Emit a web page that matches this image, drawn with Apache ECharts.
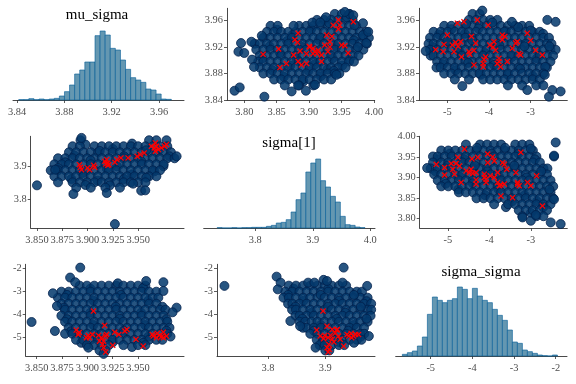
<!DOCTYPE html>
<html><head><meta charset="utf-8">
<script src="https://cdn.jsdelivr.net/npm/echarts@6/dist/echarts.min.js"></script>
<style>html,body{margin:0;padding:0;background:#fff}#c{width:576px;height:384px}</style>
</head><body><div id="c"></div>
<script>
// ---------- Histogram data (bin start, bin width, counts) ----------
const muStart = 3.8414, muWidth = 0.0043;
const muCounts = [1,1,4,1,3,1,3,5,12,25,45,78,90,114,114,193,207,195,155,150,120,92,67,60,53,33,30,18,3,2];
const sgStart = 3.7337, sgWidth = 0.00857;
const sgCounts = [1,0,0,1,0,1,1,2,2,2,5,8,15,17,25,48,85,105,168,195,207,142,123,95,78,35,10,8,3,1];
const ssStart = -5.68, ssWidth = 0.12;
const ssCounts = [5,10,15,30,57,125,177,167,160,167,172,207,200,172,203,180,167,160,140,122,107,78,42,38,18,13,8,3,1,0,3];

// ---------- Tick labels ----------
const ticksMu4 = [3.84,3.88,3.92,3.96];
const ticksSg5 = [3.80,3.85,3.90,3.95,4.00];
const ticksSS3 = [-5,-4,-3];
const ticksMu5 = [3.850,3.875,3.900,3.925,3.950];
const ticksSg2 = [3.8,3.9];
const ticksSg3 = [3.8,3.9,4.0];
const ticksSS4 = [-5,-4,-3,-2];

// ---------- Scatter: rows [y, x1, x2, ...] + extra [x,y] + divergences [x,y] ----------
// Panel A: x = sigma[1], y = mu_sigma
const rowsA = [
 [3.970,3.9395,3.9505,3.9615],
 [3.961,3.912,3.923,3.934,3.945,3.956,3.967],
 [3.952,3.8405,3.8515,3.8845,3.8955,3.9065,3.9175,3.9285,3.9395,3.9505,3.9615,3.9725],
 [3.943,3.835,3.846,3.857,3.868,3.879,3.890,3.901,3.912,3.923,3.934,3.945,3.956,3.967,3.978,3.988],
 [3.934,3.8295,3.8405,3.8515,3.8625,3.8735,3.8845,3.8955,3.9065,3.9175,3.9285,3.9395,3.9505,3.9615,3.9725,3.9835,3.992],
 [3.925,3.816,3.824,3.835,3.846,3.857,3.868,3.879,3.890,3.901,3.912,3.923,3.934,3.945,3.956,3.967,3.978,3.989],
 [3.916,3.8185,3.8295,3.8405,3.8515,3.8625,3.8735,3.8845,3.8955,3.9065,3.9175,3.9285,3.9395,3.9505,3.9615,3.9725,3.9835],
 [3.907,3.824,3.835,3.846,3.857,3.868,3.879,3.890,3.901,3.912,3.923,3.934,3.945,3.956,3.967,3.976],
 [3.898,3.8215,3.8295,3.8405,3.8515,3.8625,3.8735,3.8845,3.8955,3.9065,3.9175,3.9285,3.9395,3.9505,3.9615,3.969],
 [3.889,3.824,3.835,3.846,3.857,3.868,3.879,3.890,3.901,3.912,3.923,3.934,3.945,3.956],
 [3.880,3.8295,3.8405,3.8515,3.8625,3.8735,3.8845,3.8955,3.9065,3.9175,3.9285,3.9395,3.9465],
 [3.871,3.846,3.857,3.868,3.879,3.890,3.901,3.912,3.923,3.934],
 [3.862,3.8625,3.8845,3.9065]
];
const fillA = [[3.851,3.946],[3.874,3.938],[3.903,3.947],[3.931,3.956],[3.958,3.965],[3.839,3.921],[3.866,3.929],[3.889,3.920],[3.915,3.931],[3.942,3.920],[3.969,3.930],[3.983,3.938],[3.828,3.903],[3.855,3.911],[3.881,3.902],[3.909,3.894],[3.936,3.903],[3.962,3.901],[3.843,3.885],[3.871,3.892],[3.899,3.884],[3.928,3.886],[3.951,3.892],[3.861,3.875],[3.891,3.868],[3.918,3.876],[3.938,3.884],[3.926,3.965],[3.905,3.957],[3.962,3.970]];
const extraA = [[3.785,3.854],[3.793,3.859],[3.831,3.845],[3.795,3.926],[3.791,3.913],[3.800,3.911],[3.811,3.928],[3.812,3.901],[3.815,3.890],[3.827,3.937],[3.876,3.952],[3.873,3.853],[3.883,3.862],[3.895,3.854],[3.909,3.863],[3.917,3.957],[3.942,3.878],[3.955,3.973],[3.968,3.968],[3.975,3.920],[3.988,3.926],[3.991,3.943],[3.983,3.956],[3.970,3.953]];
const divA = [[3.829,3.909],[3.855,3.889],[3.853,3.917],[3.883,3.941],[3.878,3.931],[3.882,3.927],[3.886,3.914],[3.876,3.908],[3.883,3.898],[3.888,3.893],[3.896,3.895],[3.896,3.910],[3.901,3.920],[3.906,3.918],[3.909,3.913],[3.906,3.910],[3.912,3.910],[3.914,3.915],[3.919,3.908],[3.919,3.898],[3.924,3.923],[3.927,3.938],[3.935,3.936],[3.932,3.928],[3.929,3.913],[3.937,3.953],[3.945,3.961],[3.947,3.953],[3.945,3.947],[3.950,3.923],[3.955,3.922],[3.960,3.911],[3.968,3.958],[3.932,3.920],[3.900,3.921],[3.865,3.895]];

// Panel B: x = sigma_sigma, y = mu_sigma
const rowsB = [
 [3.970,-4.395,-4.225],
 [3.961,-4.48,-4.31,-4.14,-3.97,-3.80],
 [3.952,-5.075,-4.905,-4.735,-4.565,-4.395,-4.225,-4.055,-3.885,-3.715,-3.545,-3.375,-3.205,-3.035],
 [3.943,-5.33,-5.16,-4.99,-4.82,-4.65,-4.48,-4.31,-4.14,-3.97,-3.80,-3.63,-3.46,-3.29,-3.12,-2.95,-2.78],
 [3.934,-5.415,-5.245,-5.075,-4.905,-4.735,-4.565,-4.395,-4.225,-4.055,-3.885,-3.715,-3.545,-3.375,-3.205,-3.035,-2.865,-2.695,-2.56],
 [3.925,-5.45,-5.33,-5.16,-4.99,-4.82,-4.65,-4.48,-4.31,-4.14,-3.97,-3.80,-3.63,-3.46,-3.29,-3.12,-2.95,-2.78,-2.61,-2.50],
 [3.916,-5.415,-5.245,-5.075,-4.905,-4.735,-4.565,-4.395,-4.225,-4.055,-3.885,-3.715,-3.545,-3.375,-3.205,-3.035,-2.865,-2.695,-2.525,-2.40],
 [3.907,-5.40,-5.33,-5.16,-4.99,-4.82,-4.65,-4.48,-4.31,-4.14,-3.97,-3.80,-3.63,-3.46,-3.29,-3.12,-2.95,-2.78,-2.61,-2.46],
 [3.898,-5.245,-5.075,-4.905,-4.735,-4.565,-4.395,-4.225,-4.055,-3.885,-3.715,-3.545,-3.375,-3.205,-3.035,-2.865,-2.695,-2.525],
 [3.889,-5.26,-5.16,-4.99,-4.82,-4.65,-4.48,-4.31,-4.14,-3.97,-3.80,-3.63,-3.46,-3.29,-3.12,-2.95,-2.78,-2.61],
 [3.880,-5.075,-4.905,-4.735,-4.565,-4.395,-4.225,-4.055,-3.885,-3.715,-3.545,-3.375,-3.205,-3.035,-2.865,-2.695],
 [3.871,-4.82,-4.48,-4.14,-3.97,-3.80,-3.63,-3.46,-3.29,-3.12,-2.95,-2.78],
 [3.862,-3.545,-3.205,-2.865,-2.695]
];
const fillB = [[-5.20,3.939],[-4.90,3.947],[-4.58,3.940],[-4.25,3.948],[-3.92,3.957],[-3.60,3.944],[-3.30,3.950],[-3.00,3.945],[-2.70,3.940],[-5.35,3.920],[-5.00,3.929],[-4.70,3.912],[-4.40,3.930],[-4.10,3.911],[-3.75,3.922],[-3.45,3.905],[-3.15,3.921],[-2.85,3.903],[-2.55,3.921],[-5.10,3.894],[-4.80,3.885],[-4.50,3.896],[-4.20,3.878],[-3.88,3.893],[-3.55,3.878],[-3.25,3.887],[-2.95,3.876],[-2.65,3.890],[-4.55,3.955],[-3.45,3.958]];
const extraB = [[-5.52,3.914],[-4.64,3.861],[-3.08,3.855],[-2.48,3.855],[-2.56,3.845],[-2.28,3.853],[-2.60,3.961],[-2.40,3.958],[-2.66,3.878],[-4.16,3.975]];
const divB = [[-5.28,3.916],[-5.08,3.924],[-5.10,3.913],[-5.00,3.938],[-4.88,3.923],[-4.84,3.913],[-4.80,3.927],[-4.74,3.921],[-4.68,3.928],[-4.66,3.905],[-4.76,3.956],[-4.60,3.958],[-4.48,3.913],[-4.46,3.909],[-4.42,3.936],[-4.36,3.915],[-4.32,3.926],[-4.36,3.893],[-4.28,3.961],[-4.14,3.895],[-4.14,3.890],[-4.08,3.905],[-4.12,3.901],[-4.02,3.953],[-3.98,3.923],[-3.90,3.920],[-3.88,3.928],[-3.84,3.915],[-3.80,3.895],[-3.76,3.898],[-3.72,3.890],[-3.76,3.903],[-3.68,3.931],[-3.62,3.936],[-3.56,3.898],[-3.44,3.918],[-3.36,3.926],[-3.32,3.928],[-3.28,3.910],[-3.24,3.908],[-3.08,3.941],[-3.00,3.930],[-2.88,3.915],[-2.72,3.908],[-3.68,3.938]];

// Panel C: x = mu_sigma, y = sigma[1]
const rowsC = [
 [3.978,3.8930,3.9608,3.9680,3.9780],
 [3.960,3.8852,3.8924,3.9068,3.9140,3.9212,3.9284,3.9356,3.9428,3.9500,3.9572,3.9644,3.9716,3.9788],
 [3.942,3.8816,3.8888,3.8960,3.9032,3.9104,3.9176,3.9248,3.9320,3.9392,3.9464,3.9536,3.9608,3.9680,3.9752,3.9824],
 [3.924,3.8708,3.8780,3.8852,3.8924,3.8996,3.9068,3.9140,3.9212,3.9284,3.9356,3.9428,3.9500,3.9572,3.9644,3.9716,3.9788,3.9860],
 [3.906,3.8672,3.8744,3.8816,3.8888,3.8960,3.9032,3.9104,3.9176,3.9248,3.9320,3.9392,3.9464,3.9536,3.9608,3.9680,3.9752],
 [3.888,3.8636,3.8708,3.8780,3.8852,3.8924,3.8996,3.9068,3.9140,3.9212,3.9284,3.9356,3.9428,3.9500,3.9572,3.9644,3.9716],
 [3.870,3.8672,3.8744,3.8816,3.8888,3.8960,3.9032,3.9104,3.9176,3.9248,3.9320,3.9392,3.9464,3.9536,3.9608,3.9680],
 [3.852,3.8708,3.8852,3.8924,3.8996,3.9068,3.9140,3.9212,3.9284,3.9356,3.9428,3.9500,3.9572],
 [3.836,3.8888,3.9032,3.9176,3.9320]
];
const fillC = [[3.898,3.965],[3.925,3.952],[3.944,3.968],[3.971,3.950],[3.887,3.932],[3.912,3.946],[3.936,3.930],[3.958,3.948],[3.981,3.930],[3.878,3.912],[3.903,3.918],[3.929,3.900],[3.953,3.915],[3.975,3.900],[3.871,3.895],[3.895,3.880],[3.919,3.893],[3.944,3.876],[3.966,3.885],[3.884,3.862],[3.910,3.857],[3.936,3.862],[3.958,3.866],[3.898,3.844],[3.922,3.843],[3.945,3.848]];
const extraC = [[3.850,3.843],[3.886,3.817],[3.919,3.820],[3.953,3.827],[3.957,3.828],[3.927,3.727],[3.868,3.890],[3.894,3.985],[3.988,3.930]];
const divC = [[3.893,3.897],[3.894,3.890],[3.892,3.905],[3.900,3.895],[3.902,3.890],[3.906,3.903],[3.907,3.897],[3.917,3.915],[3.918,3.907],[3.919,3.920],[3.920,3.910],[3.921,3.905],[3.927,3.912],[3.929,3.920],[3.933,3.925],[3.940,3.925],[3.949,3.930],[3.952,3.935],[3.956,3.940],[3.963,3.960],[3.966,3.955],[3.968,3.960],[3.967,3.945],[3.970,3.950],[3.973,3.955],[3.976,3.960],[3.978,3.965],[3.967,3.970],[3.920,3.903]];

// Panel D: x = sigma_sigma, y = sigma[1]
const rowsD = [
 [3.980,-4.565,-4.225,-4.055,-3.885,-3.715,-3.375,-3.205,-3.035],
 [3.9655,-5.16,-4.99,-4.82,-4.65,-4.48,-4.31,-4.14,-3.97,-3.80,-3.63,-3.46,-3.29,-3.12,-2.95],
 [3.951,-5.36,-5.245,-5.075,-4.905,-4.735,-4.565,-4.395,-4.225,-4.055,-3.885,-3.715,-3.545,-3.375,-3.205,-3.035,-2.865,-2.44],
 [3.9365,-5.36,-5.16,-4.99,-4.82,-4.65,-4.48,-4.31,-4.14,-3.97,-3.80,-3.63,-3.46,-3.29,-3.12,-2.95,-2.78],
 [3.922,-5.415,-5.245,-5.075,-4.905,-4.735,-4.565,-4.395,-4.225,-4.055,-3.885,-3.715,-3.545,-3.375,-3.205,-3.035,-2.865,-2.695,-2.60],
 [3.9075,-5.33,-5.16,-4.99,-4.82,-4.65,-4.48,-4.31,-4.14,-3.97,-3.80,-3.63,-3.46,-3.29,-3.12,-2.95,-2.78,-2.61],
 [3.893,-5.245,-5.075,-4.905,-4.735,-4.565,-4.395,-4.225,-4.055,-3.885,-3.715,-3.545,-3.375,-3.205,-3.035,-2.865,-2.695,-2.525],
 [3.8785,-5.16,-4.99,-4.82,-4.65,-4.48,-4.31,-4.14,-3.97,-3.80,-3.63,-3.46,-3.29,-3.12,-2.95,-2.78,-2.61,-2.46],
 [3.864,-4.735,-4.565,-4.395,-4.225,-4.055,-3.885,-3.715,-3.545,-3.375,-3.205,-3.035,-2.865,-2.695,-2.525],
 [3.8495,-4.31,-4.14,-3.97,-3.80,-3.63,-3.46,-3.29,-3.12,-2.95,-2.78,-2.61,-2.46],
 [3.835,-3.885,-3.545,-3.375,-3.205,-3.035,-2.865,-2.695,-2.525],
 [3.8205,-3.29,-3.12,-2.95,-2.78,-2.61],
 [3.806,-3.205,-2.865,-2.695]
];
const fillD = [[-5.25,3.944],[-4.95,3.958],[-4.60,3.944],[-4.30,3.972],[-3.95,3.958],[-3.62,3.972],[-3.30,3.958],[-3.00,3.970],[-2.90,3.944],[-5.30,3.915],[-5.00,3.929],[-4.70,3.901],[-4.35,3.929],[-4.05,3.915],[-3.75,3.900],[-3.40,3.929],[-3.10,3.900],[-2.75,3.915],[-5.05,3.885],[-4.75,3.871],[-4.40,3.886],[-4.10,3.857],[-3.78,3.871],[-3.45,3.842],[-3.15,3.857],[-2.85,3.842],[-2.55,3.871],[-3.60,3.828],[-3.00,3.814],[-2.70,3.828]];
const extraD = [[-5.50,3.923],[-2.40,3.985],[-2.44,3.953],[-2.52,3.791],[-2.28,3.787],[-3.20,3.803],[-3.00,3.795],[-2.88,3.809],[-2.44,3.847]];
const divD = [[-5.28,3.932],[-5.08,3.924],[-5.08,3.906],[-4.92,3.934],[-4.88,3.920],[-4.84,3.908],[-4.80,3.934],[-4.76,3.949],[-4.72,3.928],[-4.68,3.888],[-4.60,3.969],[-4.56,3.916],[-4.48,3.912],[-4.44,3.920],[-4.42,3.945],[-4.40,3.910],[-4.32,3.912],[-4.32,3.894],[-4.32,3.884],[-4.28,3.949],[-4.12,3.908],[-4.12,3.900],[-4.08,3.896],[-4.08,3.888],[-4.04,3.957],[-4.04,3.936],[-3.98,3.904],[-3.92,3.950],[-3.88,3.940],[-3.88,3.900],[-3.80,3.888],[-3.80,3.912],[-3.76,3.880],[-3.72,3.882],[-3.72,3.855],[-3.68,3.936],[-3.64,3.932],[-3.58,3.920],[-3.44,3.851],[-3.36,3.912],[-3.32,3.888],[-3.28,3.880],[-3.24,3.961],[-3.08,3.888],[-3.00,3.880],[-2.86,3.904],[-2.72,3.831],[-3.32,3.884],[-3.64,3.884]];

// Panel E: x = mu_sigma, y = sigma_sigma
const rowsE = [
 [-2.75,3.8924,3.8996,3.9068,3.9140,3.9212,3.9284,3.9356,3.9428,3.9500,3.9572],
 [-3.01,3.8744,3.8816,3.8888,3.8960,3.9032,3.9104,3.9176,3.9248,3.9320,3.9392,3.9464,3.9536,3.9608,3.9680],
 [-3.27,3.8710,3.8780,3.8852,3.8924,3.8996,3.9068,3.9140,3.9212,3.9284,3.9356,3.9428,3.9500,3.9572,3.9644,3.9700],
 [-3.53,3.8744,3.8816,3.8888,3.8960,3.9032,3.9104,3.9176,3.9248,3.9320,3.9392,3.9464,3.9536,3.9608,3.9680],
 [-3.79,3.8780,3.8852,3.8924,3.8996,3.9068,3.9140,3.9212,3.9284,3.9356,3.9428,3.9500,3.9572,3.9644,3.9716,3.9770],
 [-4.05,3.8744,3.8816,3.8888,3.8960,3.9032,3.9104,3.9176,3.9248,3.9320,3.9392,3.9464,3.9536,3.9608,3.9680,3.9752],
 [-4.31,3.8780,3.8852,3.8924,3.8996,3.9068,3.9140,3.9212,3.9284,3.9356,3.9428,3.9500,3.9572,3.9644,3.9716,3.9788],
 [-4.57,3.8816,3.8888,3.8960,3.9032,3.9104,3.9176,3.9248,3.9320,3.9392,3.9464,3.9536,3.9608,3.9680,3.9752,3.9810],
 [-4.83,3.8780,3.8852,3.8924,3.8996,3.9068,3.9140,3.9212,3.9284,3.9356,3.9428,3.9500,3.9572,3.9644,3.9716,3.9788],
 [-5.09,3.8888,3.8960,3.9032,3.9104,3.9176,3.9248,3.9320,3.9392,3.9464,3.9536,3.9608,3.9680,3.9740],
 [-5.32,3.8996,3.9068,3.9140,3.9212,3.9356,3.9500,3.9572],
 [-5.55,3.9120,3.9180]
];
const fillE = [[3.903,-2.88],[3.930,-2.65],[3.955,-2.85],[3.880,-3.15],[3.906,-3.40],[3.933,-3.15],[3.960,-3.40],[3.877,-3.70],[3.903,-3.92],[3.928,-3.66],[3.953,-3.92],[3.974,-3.66],[3.880,-4.20],[3.906,-4.45],[3.932,-4.18],[3.957,-4.45],[3.978,-4.20],[3.884,-4.72],[3.910,-4.95],[3.936,-4.70],[3.960,-4.96],[3.978,-4.70],[3.894,-5.22],[3.925,-5.20],[3.955,-5.22],[3.944,-5.40]];
const extraE = [[3.893,-1.97],[3.845,-4.32],[3.883,-2.40],[3.888,-2.60],[3.958,-2.55],[3.975,-2.60],[3.975,-2.98],[3.988,-3.70],[3.866,-3.08],[3.870,-3.63],[3.868,-4.71],[3.901,-5.43],[3.984,-3.90],[3.982,-4.95],[3.916,-5.70]];
const divE = [[3.889,-4.67],[3.891,-4.86],[3.892,-4.77],[3.899,-5.00],[3.901,-4.90],[3.902,-5.00],[3.905,-4.86],[3.906,-3.85],[3.914,-5.00],[3.916,-5.15],[3.915,-5.29],[3.916,-5.43],[3.918,-5.62],[3.917,-4.47],[3.919,-4.86],[3.918,-4.93],[3.925,-5.33],[3.927,-4.76],[3.931,-4.86],[3.937,-4.71],[3.939,-4.64],[3.948,-5.07],[3.955,-5.36],[3.964,-4.86],[3.965,-4.93],[3.968,-5.00],[3.971,-4.90],[3.973,-4.96],[3.975,-4.76],[3.978,-4.93],[3.975,-5.00],[3.969,-4.81],[3.911,-4.90],[3.912,-5.15]];

// Panel F: x = sigma[1], y = sigma_sigma
const rowsF = [
 [-2.75,3.8363,3.8488,3.8613,3.8738,3.8863,3.8988,3.9113,3.9238,3.9363],
 [-3.01,3.8300,3.8425,3.8550,3.8675,3.8800,3.8925,3.9050,3.9175,3.9300,3.9425,3.9550,3.9640],
 [-3.27,3.8270,3.8363,3.8488,3.8613,3.8738,3.8863,3.8988,3.9113,3.9238,3.9363,3.9488,3.9613,3.9738],
 [-3.53,3.8350,3.8425,3.8550,3.8675,3.8800,3.8925,3.9050,3.9175,3.9300,3.9425,3.9550,3.9675,3.9800],
 [-3.79,3.8420,3.8488,3.8613,3.8738,3.8863,3.8988,3.9113,3.9238,3.9363,3.9488,3.9613,3.9738,3.9800],
 [-4.05,3.8480,3.8550,3.8675,3.8800,3.8925,3.9050,3.9175,3.9300,3.9425,3.9550,3.9675,3.9790],
 [-4.31,3.8550,3.8650,3.8760,3.8863,3.8988,3.9113,3.9238,3.9363,3.9488,3.9613,3.9738],
 [-4.57,3.8610,3.8675,3.8800,3.8925,3.9050,3.9175,3.9300,3.9425,3.9550,3.9675],
 [-4.83,3.8738,3.8863,3.8988,3.9113,3.9238,3.9363,3.9488,3.9613,3.9680],
 [-5.09,3.8850,3.8960,3.9050,3.9175,3.9300,3.9425,3.9550,3.9630],
 [-5.32,3.8900,3.8988,3.9113,3.9238,3.9330],
 [-5.55,3.9000,3.9070]
];
const fillF = [[3.845,-2.88],[3.870,-2.62],[3.905,-2.88],[3.930,-2.62],[3.835,-3.15],[3.862,-3.40],[3.892,-3.15],[3.924,-3.40],[3.950,-3.15],[3.972,-3.42],[3.848,-3.66],[3.876,-3.92],[3.905,-3.66],[3.935,-3.92],[3.962,-3.66],[3.860,-4.18],[3.892,-4.45],[3.920,-4.18],[3.950,-4.45],[3.972,-4.18],[3.880,-4.70],[3.910,-4.96],[3.940,-4.70],[3.962,-4.95],[3.895,-5.22],[3.925,-5.20],[3.950,-5.22]];
const extraF = [[3.724,-2.76],[3.932,-1.97],[3.815,-2.36],[3.822,-2.62],[3.817,-2.91],[3.839,-4.28],[3.856,-4.50],[3.883,-5.43],[3.973,-2.76],[3.976,-4.93],[3.897,-2.50],[3.903,-2.55],[3.881,-2.62]];
const divF = [[3.885,-4.67],[3.891,-4.93],[3.896,-3.85],[3.899,-4.90],[3.903,-4.50],[3.905,-5.00],[3.909,-4.90],[3.912,-5.07],[3.906,-5.29],[3.903,-5.43],[3.905,-5.62],[3.907,-5.51],[3.915,-5.19],[3.917,-4.81],[3.920,-4.67],[3.923,-4.93],[3.926,-5.07],[3.932,-5.36],[3.921,-4.64],[3.938,-4.86],[3.941,-4.93],[3.945,-4.81],[3.949,-4.93],[3.953,-4.86],[3.958,-4.86],[3.946,-5.00],[3.912,-4.64],[3.897,-5.04]];

const titles = ['mu_sigma','sigma[1]','sigma_sigma'];

// ---------- build ----------
function rowsToPts(rows){const o=[];rows.forEach(r=>{for(let i=1;i<r.length;i++)o.push([r[i],r[0]]);});return o;}
function binsOf(start,w,counts){return counts.map((c,i)=>[start+i*w,start+(i+1)*w,c]);}
// interleave so that fill points are drawn among the row points
function mix(a,b){const o=[];const n=Math.max(a.length,b.length);const step=a.length/(b.length||1);let j=0;
 for(let i=0;i<a.length;i++){o.push(a[i]);if(j<b.length&&i>=Math.floor(j*step)){o.push(b[j]);j++;}}
 while(j<b.length){o.push(b[j]);j++;}return o;}

const FONT='Liberation Serif';
const LBL='#4d4d4d';
const grids=[
 {left:13,top:31,width:171,height:69},
 {left:227,top:8.3,width:147.7,height:91.7},
 {left:419,top:8.3,width:148.3,height:91.7},
 {left:30.7,top:136.3,width:153.3,height:91.7},
 {left:203.7,top:159,width:171.3,height:69},
 {left:419.7,top:136.3,width:147.6,height:91.7},
 {left:25.7,top:264.3,width:158.3,height:91.7},
 {left:217,top:264.3,width:158,height:91.7},
 {left:395.7,top:287,width:171.3,height:69}
];
function ax(dim,gi,min,max,ticks,dec){
 return {type:'value',gridIndex:gi,min:min,max:max,splitLine:{show:false},
  axisLine:{show:true,onZero:false,lineStyle:{color:'#1a1a1a',width:0.8}},
  axisTick:{show:true,inside:false,length:3,customValues:ticks,lineStyle:{color:'#333',width:0.8}},
  axisLabel:{show:true,customValues:ticks,hideOverlap:false,formatter:v=>Number(v).toFixed(dec),color:LBL,fontFamily:FONT,fontSize:10.4,margin:dim==='x'?7:4}};
}
function hy(gi,counts){return {type:'value',gridIndex:gi,min:0,max:Math.max(...counts),show:false};}
const xAxes=[
 ax('x',0,3.8366,3.9811,ticksMu4,2),
 ax('x',1,3.7734,4.001,ticksSg5,2),
 ax('x',2,-5.68,-2.12,ticksSS3,0),
 ax('x',3,3.8438,3.9953,ticksMu5,3),
 ax('x',4,3.7103,4.0082,ticksSg3,1),
 ax('x',5,-5.68,-2.12,ticksSS3,0),
 ax('x',6,3.8392,3.9953,ticksMu5,3),
 ax('x',7,3.711,3.9867,ticksSg2,1),
 ax('x',8,-5.84,-1.73,ticksSS4,0)
];
const yAxes=[
 hy(0,muCounts),
 ax('y',1,3.84,3.9785,ticksMu4,2),
 ax('y',2,3.84,3.9785,ticksMu4,2),
 ax('y',3,3.7153,3.9898,ticksSg2,1),
 hy(4,sgCounts),
 ax('y',5,3.7774,4.0,ticksSg5,2),
 ax('y',6,-5.79,-1.827,ticksSS4,0),
 ax('y',7,-5.79,-1.827,ticksSS4,0),
 hy(8,ssCounts)
];
function hist(gi,data){
 return {type:'custom',xAxisIndex:gi,yAxisIndex:gi,data:data,silent:true,clip:false,
  renderItem:function(params,api){
   const p0=api.coord([api.value(0),0]);const p1=api.coord([api.value(1),api.value(2)]);
   return {type:'rect',shape:{x:p0[0],y:p1[1],width:p1[0]-p0[0],height:p0[1]-p1[1]},
    style:{fill:'#6497b1',stroke:'#005b96',lineWidth:0.6}};
  }};
}
function pts(gi,data){
 return {type:'scatter',xAxisIndex:gi,yAxisIndex:gi,data:data,symbol:'circle',symbolSize:9,silent:true,clip:false,
  itemStyle:{color:'#03396c',borderColor:'#011f4b',borderWidth:0.9,opacity:0.86}};
}
const XPATH='path://M0,1.5L1.5,0L5,3.5L8.5,0L10,1.5L6.5,5L10,8.5L8.5,10L5,6.5L1.5,10L0,8.5L3.5,5Z';
function div(gi,data){
 return {type:'scatter',xAxisIndex:gi,yAxisIndex:gi,data:data,symbol:XPATH,symbolSize:6,silent:true,clip:false,z:5,
  itemStyle:{color:'#ff0000',opacity:1}};
}
const series=[
 hist(0,binsOf(muStart,muWidth,muCounts)),
 hist(4,binsOf(sgStart,sgWidth,sgCounts)),
 hist(8,binsOf(ssStart,ssWidth,ssCounts)),
 pts(1,mix(rowsToPts(rowsA),fillA).concat(extraA)),
 pts(2,mix(rowsToPts(rowsB),fillB).concat(extraB)),
 pts(3,mix(rowsToPts(rowsC),fillC).concat(extraC)),
 pts(5,mix(rowsToPts(rowsD),fillD).concat(extraD)),
 pts(6,mix(rowsToPts(rowsE),fillE).concat(extraE)),
 pts(7,mix(rowsToPts(rowsF),fillF).concat(extraF)),
 div(1,divA),div(2,divB),div(3,divC),div(5,divD),div(6,divE),div(7,divF)
];
const tpos=[[97,15],[289,143],[481,272]];
const graphic=titles.map((t,i)=>({type:'text',x:tpos[i][0],y:tpos[i][1],
 style:{text:t,fill:'#000',font:'15px "Liberation Serif"',textAlign:'center',textVerticalAlign:'middle'}}));

const chart=echarts.init(document.getElementById('c'),null,{renderer:'canvas'});
chart.setOption({animation:false,backgroundColor:'#fff',grid:grids,xAxis:xAxes,yAxis:yAxes,series:series,graphic:graphic});
</script></body></html>
